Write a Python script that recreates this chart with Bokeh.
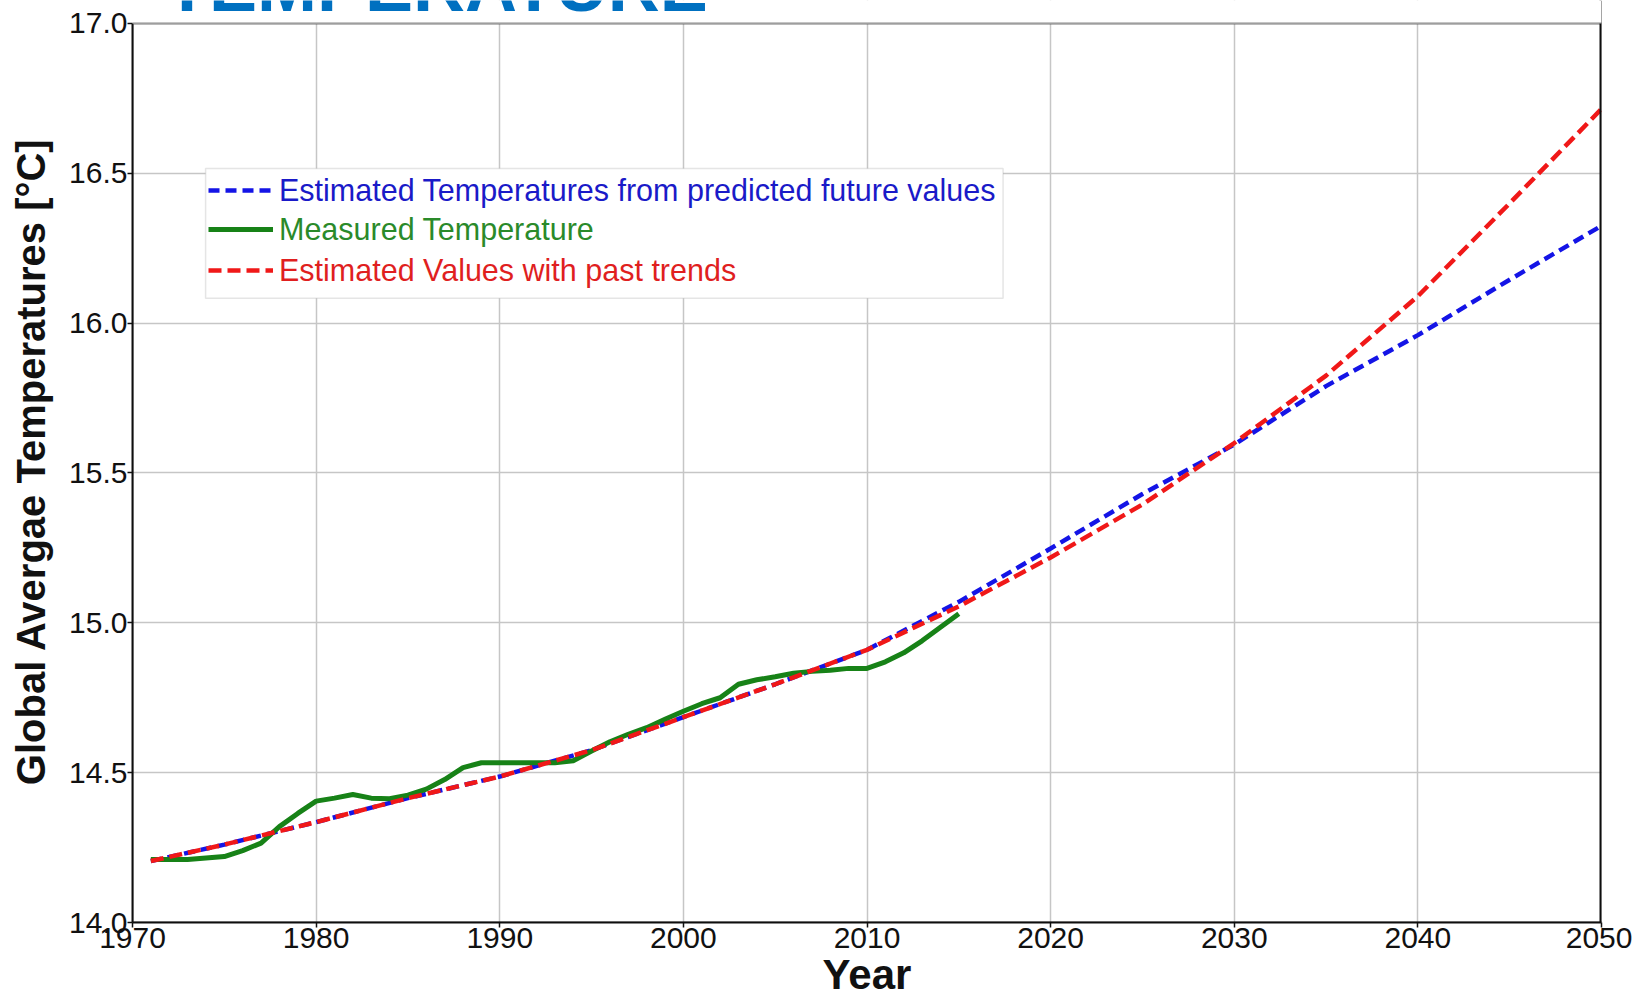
from bokeh.plotting import figure
from bokeh.models import (Range1d, FixedTicker, PrintfTickFormatter, Legend, LegendItem,
                          BoxAnnotation, Label, Span)
from bokeh.embed import file_html
from bokeh.resources import INLINE

# ---------------- data ----------------
measured_years = list(range(1971, 2016))
measured_temp = [14.21, 14.21, 14.21, 14.215, 14.22, 14.24, 14.265, 14.32, 14.364, 14.405,
                 14.415, 14.427, 14.415, 14.413, 14.425, 14.445, 14.477, 14.517, 14.533, 14.533,
                 14.533, 14.533, 14.533, 14.54, 14.572, 14.603, 14.628, 14.65, 14.678, 14.705,
                 14.73, 14.75, 14.795, 14.81, 14.82, 14.832, 14.838, 14.842, 14.848, 14.848,
                 14.87, 14.90, 14.94, 14.985, 15.03]

est_years = [1971, 1975, 1980, 1985, 1990, 1995, 2000, 2005, 2010, 2015, 2020, 2025,
             2030, 2035, 2040, 2045, 2050]
est_future = [14.205, 14.26, 14.335, 14.415, 14.487, 14.575, 14.685, 14.795, 14.91, 15.07,
              15.248, 15.43, 15.595, 15.79, 15.96, 16.145, 16.325]
est_past_trend = [14.205, 14.26, 14.335, 14.415, 14.487, 14.575, 14.685, 14.795, 14.91, 15.055,
                  15.218, 15.395, 15.60, 15.825, 16.09, 16.40, 16.715]

x_ticks = [1970, 1980, 1990, 2000, 2010, 2020, 2030, 2040, 2050]
y_ticks = [14.0, 14.5, 15.0, 15.5, 16.0, 16.5, 17.0]

label_future = "Estimated Temperatures from predicted future values"
label_measured = "Measured Temperature"
label_past = "Estimated Values with past trends"
title_text = "TEMPERATURE"

FONT = "Liberation Sans"

X_MIN, X_MAX = 1970, 2050
Y_MIN, Y_MAX = 14.0, 17.0
Y_TOP = 17.07675   # extra room above the axes box for the (cut-off) title

p = figure(width=1632, height=1000, output_backend="svg", toolbar_location=None,
           x_range=Range1d(X_MIN, X_MAX), y_range=Range1d(Y_MIN, Y_TOP),
           min_border_left=132, min_border_right=31, min_border_top=0, min_border_bottom=78)
p.background_fill_color = "white"
p.border_fill_color = "white"
p.outline_line_color = None

# axes
p.xaxis.ticker = FixedTicker(ticks=x_ticks)
p.yaxis.ticker = FixedTicker(ticks=y_ticks)
p.yaxis.formatter = PrintfTickFormatter(format="%.1f")
p.yaxis.bounds = (Y_MIN, Y_MAX)
for ax in (p.xaxis[0], p.yaxis[0]):
    ax.major_tick_in = 0
    ax.major_tick_out = 5
    ax.minor_tick_line_color = None
    ax.major_tick_line_color = "#111111"
    ax.major_tick_line_width = 1.5
    ax.axis_line_color = "#111111"
    ax.axis_line_width = 2
    ax.major_label_text_font = FONT
    ax.major_label_text_font_size = "30px"
    ax.major_label_text_color = "#111111"
    ax.major_label_standoff = 0
    ax.axis_label_text_font = FONT
    ax.axis_label_text_font_style = "bold"
    ax.axis_label_text_color = "#111111"

p.xaxis.axis_label = "Year"
p.xaxis.axis_label_text_font_size = "42px"
p.xaxis.axis_label_standoff = 0
p.yaxis.axis_label = "Global Avergae Temperatures [°C]"
p.yaxis.axis_label_text_font_size = "40px"
p.yaxis.axis_label_standoff = 13

p.xgrid.grid_line_color = "#c6c6c6"
p.ygrid.grid_line_color = "#c6c6c6"
p.xgrid.grid_line_width = 1.5
p.ygrid.grid_line_width = 1.5

# series
r_future = p.line(est_years, est_future, line_color="#1414e6", line_width=4.5,
                  line_dash="11 6")
r_meas = p.line(measured_years, measured_temp, line_color="#178217", line_width=5,
                line_join="round")
r_past = p.line(est_years, est_past_trend, line_color="#f01818", line_width=4.5,
                line_dash="13 6")

# right edge of the axes box (half of it is clipped at the frame edge)
p.add_layout(Span(location=X_MAX, dimension="height", line_color="#111111", line_width=4))
# white strip above the axes box (hides grid lines there)
p.add_layout(BoxAnnotation(left=X_MIN, right=X_MAX, bottom=Y_MAX, top=Y_TOP,
                           fill_color="white", fill_alpha=1.0, line_color=None))
# axes box border
p.add_layout(BoxAnnotation(left=X_MIN, right=X_MAX, bottom=Y_MIN, top=Y_MAX,
                           fill_alpha=0.0, line_color="#000000", line_width=2.5))

# legend box
box = BoxAnnotation(left=1973.98, right=2017.41, top=16.516, bottom=16.083,
                    fill_color="white", fill_alpha=1.0, line_color="#a8a8a8", line_width=1.5)
p.add_layout(box)

rows = [(label_future, r_future, "#1a1ac8", 712),
        (label_measured, r_meas, "#2a8a2a", 673),
        (label_past, r_past, "#e01f1f", 632)]
for text, rend, col, vy in rows:
    leg = Legend(items=[LegendItem(label=text, renderers=[rend])], location=(76, vy),
                 background_fill_alpha=0, border_line_alpha=0, padding=0, margin=0,
                 spacing=0, glyph_width=65, glyph_height=40, label_height=40,
                 label_standoff=6, label_text_font=FONT, label_text_font_size="30.5px",
                 label_text_color=col)
    p.add_layout(leg)

# title, cut off at the top of the image as in the original
p.add_layout(Label(x=1971.77, y=16.9913, text=title_text, text_font=FONT,
                   text_font_style="bold", text_font_size="72px", text_color="#0070c0",
                   text_baseline="bottom"))

open("out.html", "w").write(file_html(p, INLINE))
